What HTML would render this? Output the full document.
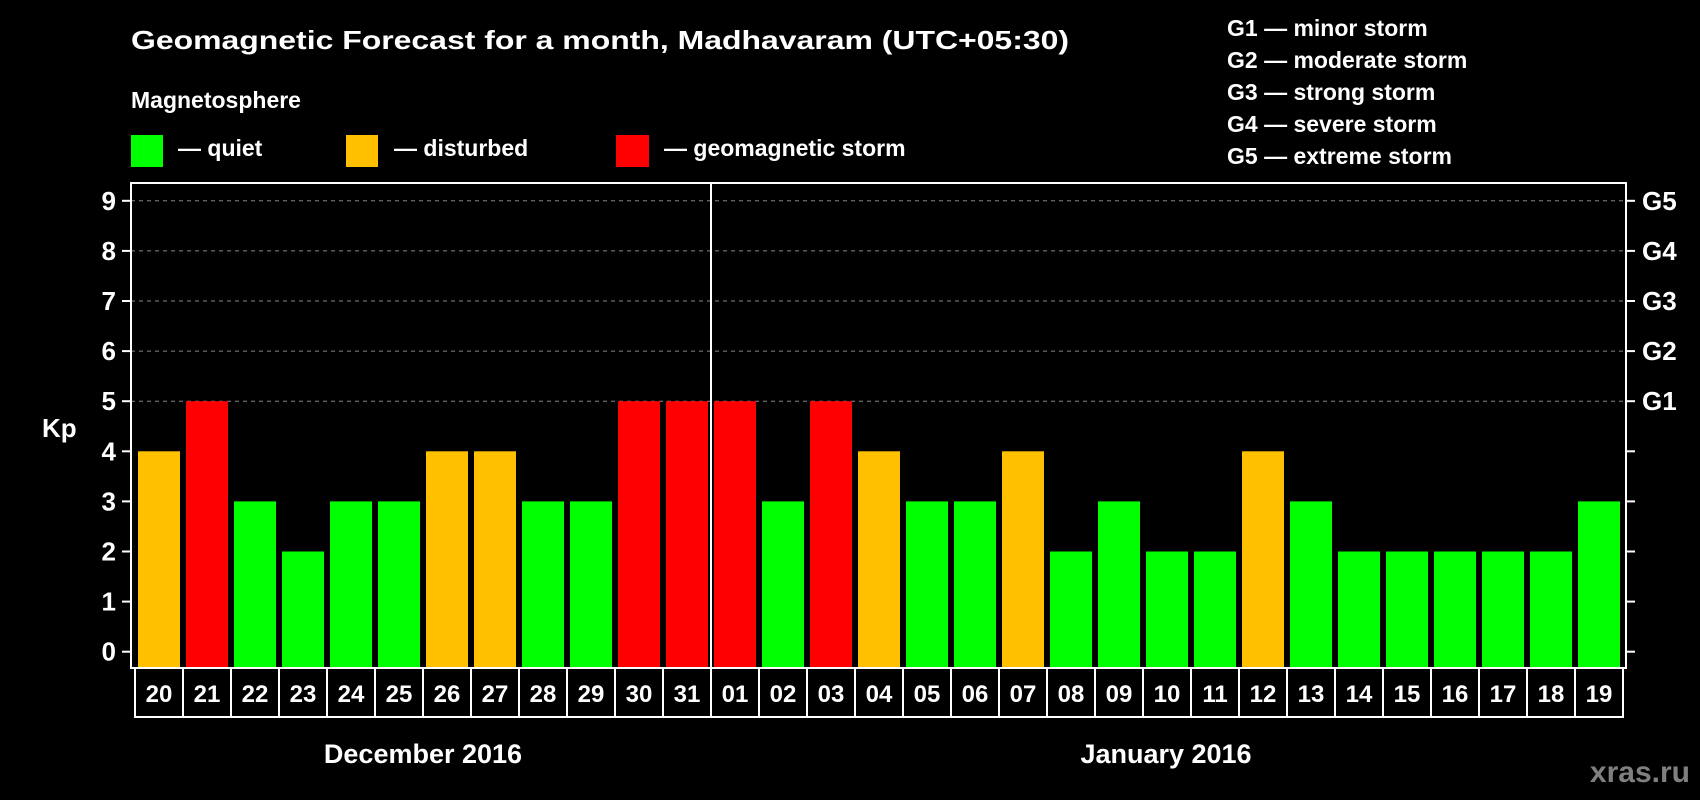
<!DOCTYPE html>
<html><head><meta charset="utf-8"><style>
html,body{margin:0;padding:0;background:#000;}
svg{display:block;font-family:"Liberation Sans",Arial,sans-serif;font-weight:bold;}
</style></head><body>
<svg id="chart" width="1700" height="800" viewBox="0 0 1700 800" xmlns="http://www.w3.org/2000/svg">
<rect width="1700" height="800" fill="#000"/>
<text x="131" y="49" fill="#fff" font-size="26" textLength="938" lengthAdjust="spacingAndGlyphs">Geomagnetic Forecast for a month, Madhavaram (UTC+05:30)</text>
<text x="131" y="108" fill="#fff" font-size="23">Magnetosphere</text>
<g>
<rect x="131" y="135" width="32" height="32" fill="#00ff00"/>
<text x="178" y="156" fill="#fff" font-size="23">— quiet</text></g>
<g>
<rect x="346" y="135" width="32" height="32" fill="#ffc000"/>
<text x="394" y="156" fill="#fff" font-size="23">— disturbed</text></g>
<g>
<rect x="616" y="135" width="33" height="32" fill="#ff0000"/>
<text x="664" y="156" fill="#fff" font-size="23">— geomagnetic storm</text></g>
<g fill="#fff" font-size="23">
<text x="1227" y="36">G1 — minor storm</text>
<text x="1227" y="68">G2 — moderate storm</text>
<text x="1227" y="100">G3 — strong storm</text>
<text x="1227" y="132">G4 — severe storm</text>
<text x="1227" y="164">G5 — extreme storm</text>
</g>
<text x="42" y="437" fill="#fff" font-size="26">Kp</text>
<g id="grid"></g>
<g id="bars"></g>
<rect x="131" y="183" width="1495" height="485" fill="none" stroke="#fff" stroke-width="2"/>
<line x1="711" y1="183" x2="711" y2="668" stroke="#fff" stroke-width="2"/>
<g id="axes"></g>
<text x="423" y="763" fill="#fff" font-size="27" text-anchor="middle">December 2016</text>
<text x="1166" y="763" fill="#fff" font-size="27" text-anchor="middle">January 2016</text>
<text x="1690" y="782" fill="#808080" font-size="30" text-anchor="end">xras.ru</text>
</svg>
<script>
const days = ["20","21","22","23","24","25","26","27","28","29","30","31","01","02","03","04","05","06","07","08","09","10","11","12","13","14","15","16","17","18","19"];
const kp = [4,5,3,2,3,3,4,4,3,3,5,5,5,3,5,4,3,3,4,2,3,2,2,4,3,2,2,2,2,2,3];
const yTicks = [0,1,2,3,4,5,6,7,8,9];
const gLabels = ["G1","G2","G3","G4","G5"];
const gLevels = [5,6,7,8,9];

const NS="http://www.w3.org/2000/svg";
const x0=138, pitch=48, bw=42, yBase=651.7, unit=50.1;
const yS=v=>yBase-v*unit;
const xS=i=>x0+i*pitch;
function mk(t,a,p){const e=document.createElementNS(NS,t);for(const k in a)e.setAttribute(k,a[k]);p.appendChild(e);return e;}
const grid=document.getElementById('grid'),bars=document.getElementById('bars'),axes=document.getElementById('axes');
gLevels.forEach((v,i)=>{
  const l=mk('line',{x1:131,x2:1626,y1:yS(v),y2:yS(v),stroke:'#888','stroke-dasharray':'4,4','stroke-width':1},grid);
  
  
  const t=mk('text',{x:1642,y:yS(v)+9,fill:'#fff','font-size':26},axes);
  t.textContent=gLabels[i];
  
  
});
yTicks.forEach(v=>{
  mk('line',{x1:122,x2:131,y1:yS(v),y2:yS(v),stroke:'#fff','stroke-width':2},axes);
  mk('line',{x1:1626,x2:1635,y1:yS(v),y2:yS(v),stroke:'#fff','stroke-width':2},axes);
  const t=mk('text',{x:116,y:yS(v)+9,fill:'#fff','font-size':26,'text-anchor':'end'},axes);
  t.textContent=v;
  
  
});
kp.forEach((v,i)=>{
  const c=v>=5?'#ff0000':(v>=4?'#ffc000':'#00ff00');
  const r=mk('rect',{x:xS(i),y:yS(v),width:bw,height:668-yS(v)-1,fill:c},bars);
  
  
  const b=mk('rect',{x:xS(i)-3,y:668,width:48,height:49,fill:'none',stroke:'#fff','stroke-width':2},axes);
  
  
  const t=mk('text',{x:xS(i)+bw/2,y:702,fill:'#fff','font-size':24,'text-anchor':'middle'},axes);
  t.textContent=days[i];
  
  
});
</script>
</body></html>
